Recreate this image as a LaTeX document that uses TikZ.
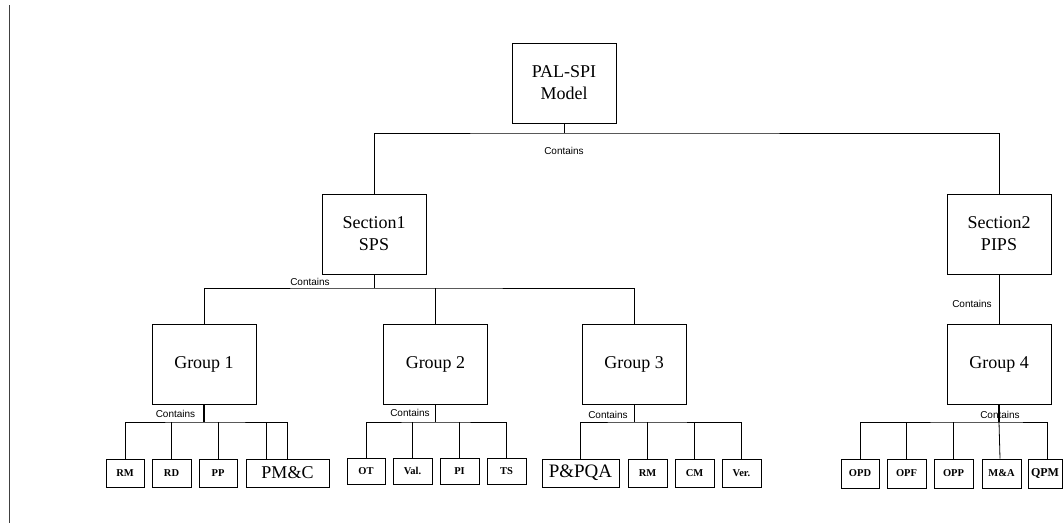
\documentclass[tikz,border=0pt]{standalone}
\usepackage{fontspec}
\setmainfont{Liberation Serif}
\newfontfamily\arialf{Liberation Sans}
\begin{document}
\begin{tikzpicture}[x=1pt,y=-1pt,
  line width=0.8pt,
  bigbox/.style={draw, inner sep=0pt, minimum width=104pt, minimum height=80pt, align=center, font=\fontsize{18}{22}\selectfont},
  leafbox/.style={draw, inner sep=0pt, minimum width=38pt, minimum height=28pt, font=\fontsize{10.5}{12}\selectfont\bfseries},
  bigleaf/.style={draw, inner sep=0pt, minimum height=28pt, font=\fontsize{18}{20}\selectfont},
  lbl/.style={inner sep=0pt, font=\arialf\fontsize{10}{12}\selectfont},
  conn/.style={draw, line width=0.8pt}
]
\useasboundingbox (0,0) rectangle (1063,523);
\draw[line width=1pt, black!75] (9,5) -- (9,523);

% main nodes
\node[bigbox] (top) at (564,83) {PAL-SPI\\Model};
\node[bigbox] (s1) at (374,234) {Section1\\SPS};
\node[bigbox] (s2) at (999,234) {Section2\\PIPS};
\node[bigbox] (g1) at (204,364) {Group 1};
\node[bigbox] (g2) at (435.5,364) {Group 2};
\node[bigbox] (g3) at (634,364) {Group 3};
\node[bigbox] (g4) at (999,364) {Group 4};

% leaves group 1
\node[leafbox] (rm1) at (125,473) {RM};
\node[leafbox, minimum width=39pt] (rd) at (171.5,473) {RD};
\node[leafbox] (pp) at (218,473) {PP};
\node[bigleaf, minimum width=83pt] (pmc) at (287.5,473) {PM\&C};
% leaves group 2
\node[leafbox, minimum height=26pt] (ot) at (366,471) {OT};
\node[leafbox, minimum width=39pt, minimum height=26pt] (val) at (412.5,471) {Val.};
\node[leafbox, minimum width=39pt, minimum height=26pt] (pi) at (459.5,471) {PI};
\node[leafbox, minimum width=39pt, minimum height=26pt] (ts) at (506.5,471) {TS};
% leaves group 3
\node[bigleaf, minimum width=77pt, font=\fontsize{19}{20}\selectfont] (ppqa) at (580.5,473) {P\&PQA};
\node[leafbox, minimum width=39pt] (rm2) at (647.5,473) {RM};
\node[leafbox, minimum width=39pt] (cm) at (694.5,473) {CM};
\node[leafbox, minimum width=39pt] (ver) at (741.5,473) {Ver.};
% leaves group 4
\node[leafbox, minimum height=29pt] (opd) at (860,473.5) {OPD};
\node[leafbox, minimum width=39pt, minimum height=29pt] (opf) at (906.5,473.5) {OPF};
\node[leafbox, minimum width=39pt, minimum height=29pt] (opp) at (953.5,473.5) {OPP};
\node[leafbox, minimum width=39pt, minimum height=29pt] (ma) at (1001.5,473.5) {M\&A};
\node[leafbox, minimum width=34pt, minimum height=29pt, font=\fontsize{12}{12}\selectfont\bfseries] (qpm) at (1045,473.5) {QPM};

% junctions
\coordinate (j0) at (564,133);
\coordinate (js1) at (374,288);
\coordinate (j1) at (204,422);
\coordinate (j2) at (435.5,422);
\coordinate (j3) at (634,422);
\coordinate (j4) at (999,422);

% top level
\draw[conn] (top.south) -- (j0);
\draw[conn] (s1.north) |- (j0) -| (s2.north);
\node[lbl] (c0) at (564,151) {Contains};

% section1 to groups
\draw[conn] (s1.south) -- (js1);
\draw[conn] (g1.north) |- (js1) -| (g3.north);
\draw[conn] (js1 -| g2.north) -- (g2.north);
\node[lbl] (c1) at (310,282) {Contains};

% section2 to group4
\draw[conn] (s2.south) -- (g4.north);
\node[lbl] (c2) at (972,304) {Contains};

% group 1 leaves
\draw[conn, line width=1.4pt] (g1.south) -- (j1);
\draw[conn] (rm1.north) |- (j1) -| (pmc.north);
\draw[conn] (j1 -| rd.north) -- (rd.north);
\draw[conn] (j1 -| pp.north) -- (pp.north);
\draw[conn] ([xshift=-21.5pt]pmc.north |- j1) -- ([xshift=-21.5pt]pmc.north);
\node[lbl] (c3) at (175.5,414) {Contains};

% group 2 leaves
\draw[conn, line width=1.4pt] (g2.south) -- (j2);
\draw[conn] (ot.north) |- (j2) -| (ts.north);
\draw[conn] (j2 -| val.north) -- (val.north);
\draw[conn] (j2 -| pi.north) -- (pi.north);
\node[lbl] (c4) at (410,413) {Contains};

% group 3 leaves
\draw[conn] (g3.south) -- (j3);
\draw[conn] (ppqa.north) |- (j3) -| (ver.north);
\draw[conn] (j3 -| rm2.north) -- (rm2.north);
\draw[conn] (j3 -| cm.north) -- (cm.north);
\node[lbl] (c5) at (608,415) {Contains};

% group 4 leaves
\draw[conn, line width=1.4pt] (g4.south) -- (j4);
\draw[conn] (opd.north) |- (j4) -| ([xshift=2pt]qpm.north);
\draw[conn] (j4 -| opf.north) -- (opf.north);
\draw[conn] (j4 -| opp.north) -- (opp.north);
\draw[conn] (j4) -- ([xshift=-1.5pt]ma.north);
\node[lbl] (c6) at (1000,415) {Contains};
\end{tikzpicture}
\end{document}
